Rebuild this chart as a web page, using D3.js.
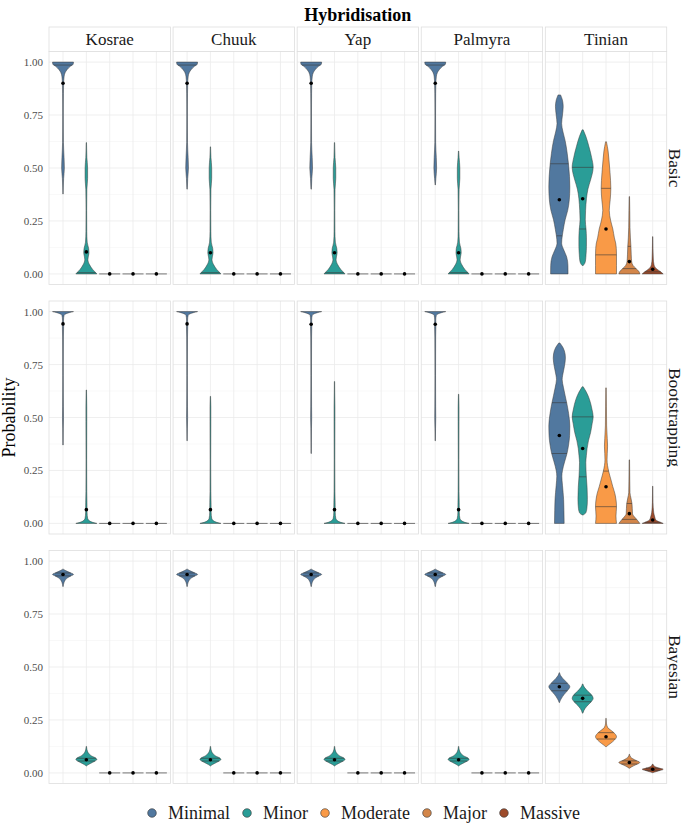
<!DOCTYPE html>
<html><head><meta charset="utf-8">
<script src="https://cdn.jsdelivr.net/npm/d3@7"></script>
<style>body{margin:0;background:#fff} svg{display:block} text{font-family:"Liberation Serif","Times New Roman",serif}</style>
</head><body><svg id="c" width="685" height="824"></svg>
<script>
// ---------------- DATA ----------------
const methods = ["Basic", "Bootstrapping", "Bayesian"];
const islands = ["Kosrae", "Chuuk", "Yap", "Palmyra", "Tinian"];
const categories = ["Minimal", "Minor", "Moderate", "Major", "Massive"];
const colours = ["#51789f", "#2a9d97", "#f99a47", "#d3864a", "#9d4b2b"];
const yTicks = [0, 0.25, 0.5, 0.75, 1];
const yMinor = [0.125, 0.375, 0.625, 0.875];

// Density profiles: [probability, relative width], from high to low probability
// Islands Kosrae–Palmyra
const basicMinimalProfile = [[1.0,1.0],[0.99,0.97],[0.98,0.7],[0.965,0.4],[0.95,0.2],[0.93,0.1],[0.9,0.06],[0.85,0.04],[0.75,0.03],[0.62,0.04],[0.55,0.1],[0.5,0.13],[0.45,0.06],[0.41,0.03],[0.38,0.02]];
const basicMinimalLow = [0.377, 0.40, 0.40, 0.42];
const basicMinorProfile = [[0.62,0.015],[0.55,0.05],[0.5,0.12],[0.45,0.12],[0.4,0.05],[0.3,0.03],[0.2,0.04],[0.15,0.08],[0.12,0.22],[0.1,0.25],[0.08,0.18],[0.067,0.15],[0.044,0.3],[0.02,0.62],[0.008,0.85],[0.0,1.0]];
const basicMinorHigh = [0.62, 0.60, 0.62, 0.58];
const bootMinimalProfile = [[1.0,1.0],[0.995,0.6],[0.99,0.3],[0.982,0.1],[0.96,0.05],[0.93,0.06],[0.88,0.04],[0.7,0.03],[0.55,0.04],[0.5,0.05],[0.45,0.03],[0.38,0.02]];
const bootMinimalLow = [0.37, 0.39, 0.33, 0.39];
const bootMinorProfile = [[0.63,0.02],[0.55,0.04],[0.48,0.04],[0.3,0.03],[0.15,0.04],[0.1,0.06],[0.05,0.07],[0.025,0.12],[0.012,0.3],[0.005,0.6],[0.0,1.0]];
const bootMinorHigh = [0.63, 0.60, 0.67, 0.61];
const bayesMinimalProfile = [[0.962,0.02],[0.955,0.25],[0.945,0.7],[0.937,1.0],[0.93,0.75],[0.92,0.4],[0.905,0.15],[0.89,0.05],[0.88,0.02]];
const bayesMinorProfile = [[0.125,0.02],[0.11,0.06],[0.095,0.18],[0.08,0.5],[0.07,0.9],[0.063,1.0],[0.055,0.8],[0.045,0.4],[0.038,0.15],[0.033,0.02]];

// Tinian
const tinianBasic = [
  [[0.845,0.12],[0.82,0.3],[0.79,0.37],[0.75,0.3],[0.71,0.22],[0.67,0.35],[0.63,0.55],[0.57,0.75],[0.52,0.87],[0.46,0.97],[0.41,1.0],[0.35,0.95],[0.3,0.8],[0.255,0.55],[0.21,0.38],[0.18,0.28],[0.145,0.22],[0.11,0.45],[0.08,0.7],[0.04,0.82],[0.0,0.83]],
  [[0.68,0.05],[0.65,0.3],[0.6,0.6],[0.55,0.85],[0.503,1.0],[0.47,0.9],[0.443,0.75],[0.4,0.5],[0.355,0.36],[0.3,0.28],[0.255,0.25],[0.212,0.32],[0.17,0.36],[0.13,0.36],[0.09,0.32],[0.066,0.28],[0.05,0.2],[0.04,0.06]],
  [[0.624,0.04],[0.58,0.2],[0.54,0.28],[0.48,0.38],[0.404,0.46],[0.35,0.4],[0.3,0.31],[0.25,0.45],[0.212,0.65],[0.17,0.8],[0.146,0.92],[0.12,0.98],[0.09,1.0],[0.04,1.0],[0.0,1.0]],
  [[0.365,0.02],[0.3,0.04],[0.22,0.06],[0.17,0.1],[0.13,0.15],[0.09,0.18],[0.058,0.22],[0.04,0.35],[0.027,0.6],[0.012,0.9],[0.0,1.0]],
  [[0.176,0.015],[0.12,0.03],[0.07,0.06],[0.045,0.12],[0.027,0.3],[0.012,0.7],[0.0,1.0]]
];
const tinianBoot = [
  [[0.852,0.05],[0.83,0.35],[0.8,0.55],[0.78,0.58],[0.74,0.48],[0.7,0.32],[0.68,0.27],[0.64,0.4],[0.57,0.7],[0.52,0.88],[0.46,1.0],[0.415,0.98],[0.37,0.88],[0.33,0.73],[0.29,0.5],[0.25,0.3],[0.223,0.24],[0.18,0.3],[0.113,0.41],[0.06,0.44],[0.0,0.46]],
  [[0.645,0.05],[0.62,0.35],[0.585,0.65],[0.54,0.88],[0.503,1.0],[0.47,0.9],[0.428,0.75],[0.39,0.55],[0.354,0.42],[0.32,0.35],[0.287,0.3],[0.25,0.32],[0.22,0.35],[0.17,0.42],[0.113,0.45],[0.07,0.4],[0.05,0.3],[0.04,0.05]],
  [[0.64,0.02],[0.55,0.04],[0.46,0.06],[0.4,0.12],[0.365,0.15],[0.33,0.12],[0.3,0.1],[0.247,0.25],[0.21,0.45],[0.173,0.65],[0.14,0.85],[0.113,0.95],[0.079,1.0],[0.035,0.95],[0.0,1.0]],
  [[0.3,0.02],[0.2,0.04],[0.145,0.06],[0.12,0.15],[0.094,0.25],[0.07,0.28],[0.046,0.3],[0.03,0.5],[0.019,0.7],[0.0,1.0]],
  [[0.176,0.01],[0.1,0.03],[0.05,0.1],[0.03,0.2],[0.016,0.3],[0.008,0.6],[0.0,1.0]]
];
const tinianBayes = [
  [[0.473,0.02],[0.46,0.12],[0.445,0.35],[0.425,0.75],[0.407,1.0],[0.39,0.8],[0.37,0.45],[0.35,0.18],[0.34,0.07],[0.332,0.02]],
  [[0.42,0.02],[0.405,0.15],[0.385,0.5],[0.365,0.9],[0.352,1.0],[0.335,0.8],[0.315,0.4],[0.295,0.12],[0.282,0.02]],
  [[0.258,0.01],[0.235,0.04],[0.215,0.15],[0.2,0.5],[0.185,0.85],[0.171,1.0],[0.155,0.8],[0.14,0.45],[0.13,0.18],[0.124,0.03]],
  [[0.088,0.02],[0.075,0.12],[0.062,0.5],[0.049,1.0],[0.038,0.6],[0.028,0.2],[0.022,0.02]],
  [[0.042,0.02],[0.032,0.15],[0.024,0.5],[0.017,1.0],[0.01,0.6],[0.004,0.2],[0.001,0.02]]
];
const tinianBasicQuart = [[0.52,0.18],[0.503,0.212],[0.404,0.09],[0.13,0.025],[0.01]];
const tinianBootQuart = [[0.57,0.33],[0.503,0.22],[0.247,0.079],[0.094,0.019],[0.005]];
const tinianBayesQuart = [[0.423,0.388],[0.367,0.336],[0.19,0.16],[0.057,0.042],[0.022,0.012]];

// Means (rows = islands, columns = categories)
const basicMeans = [[0.90,0.104,0,0,0],[0.90,0.10,0,0,0],[0.90,0.10,0,0,0],[0.90,0.10,0,0,0],[0.35,0.355,0.212,0.058,0.022]];
const bootMeans = [[0.942,0.065,0,0,0],[0.942,0.065,0,0,0],[0.94,0.065,0,0,0],[0.94,0.065,0,0,0],[0.415,0.354,0.173,0.046,0.016]];
const bayesMeans = [[0.937,0.062,0,0,0],[0.937,0.062,0,0,0],[0.937,0.062,0,0,0],[0.937,0.062,0,0,0],[0.407,0.352,0.171,0.049,0.017]];

// ---------------- BUILD ----------------
function trimLow(profile, low) {
  return profile.filter(d => d[0] > low + 0.008).concat([[low, 0.015]]);
}
function trimHigh(profile, high) {
  return [[high, 0.015]].concat(profile.filter(d => d[0] < high - 0.008));
}
function getViolin(m, i, k) {
  const means = [basicMeans, bootMeans, bayesMeans][m];
  const mean = means[i][k];
  if (i === 4) {
    return { profile: [tinianBasic, tinianBoot, tinianBayes][m][k],
             quant: [tinianBasicQuart, tinianBootQuart, tinianBayesQuart][m][k], mean };
  }
  if (k >= 2) return { profile: null, quant: [], mean };
  if (m === 0) {
    return k === 0 ? { profile: trimLow(basicMinimalProfile, basicMinimalLow[i]), quant: [0.986], mean }
                   : { profile: trimHigh(basicMinorProfile, basicMinorHigh[i]), quant: [0.006], mean };
  }
  if (m === 1) {
    return k === 0 ? { profile: trimLow(bootMinimalProfile, bootMinimalLow[i]), quant: [], mean }
                   : { profile: trimHigh(bootMinorProfile, bootMinorHigh[i]), quant: [], mean };
  }
  return k === 0 ? { profile: bayesMinimalProfile, quant: [0.944, 0.93], mean }
                 : { profile: bayesMinorProfile, quant: [0.069, 0.056], mean };
}
function widthAt(profile, p) {
  for (let j = 0; j < profile.length - 1; j++) {
    const a = profile[j], b = profile[j + 1];
    if (p <= a[0] && p >= b[0]) {
      const t = (a[0] - p) / ((a[0] - b[0]) || 1);
      return a[1] + t * (b[1] - a[1]);
    }
  }
  return 0;
}

const svg = d3.select("#c");
const L = 49, R = 666.7, colGap = 2.7, T = 51.5, B = 783.5, rowGap = 16.5;
const pw = (R - L - colGap * 4) / 5, ph = (B - T - rowGap * 2) / 3;
const stripTop = 27;

// title
svg.append("text").attr("x", (L + R) / 2).attr("y", 20.5).attr("text-anchor", "middle")
  .attr("font-size", 18).attr("font-weight", "bold").attr("fill", "#000").text("Hybridisation");
// y title
svg.append("text").attr("transform", `translate(15,${(T + B) / 2}) rotate(-90)`)
  .attr("text-anchor", "middle").attr("font-size", 18).attr("fill", "#000").text("Probability");

// strips
islands.forEach((isl, c) => {
  const x0 = L + c * (pw + colGap);
  svg.append("rect").attr("x", x0).attr("y", stripTop).attr("width", pw).attr("height", T - stripTop)
    .attr("fill", "#fff").attr("stroke", "#dedede").attr("stroke-width", 0.8);
  svg.append("text").attr("x", x0 + pw / 2).attr("y", (stripTop + T) / 2 + 5.8).attr("text-anchor", "middle")
    .attr("font-size", 17).attr("fill", "#1a1a1a").text(isl);
});

methods.forEach((meth, r) => {
  const y0 = T + r * (ph + rowGap);
  svg.append("text").attr("transform", `translate(669,${y0 + ph / 2}) rotate(90)`)
    .attr("text-anchor", "middle").attr("font-size", 17.5).attr("fill", "#1a1a1a").text(meth);

  islands.forEach((isl, c) => {
    const x0 = L + c * (pw + colGap);
    const x = d3.scalePoint().domain(categories).range([x0, x0 + pw]).padding(0.6);
    const y = d3.scaleLinear().domain([-0.05, 1.05]).range([y0 + ph, y0]);
    const half = x.step() * 0.45;
    const g = svg.append("g");
    g.append("rect").attr("x", x0).attr("y", y0).attr("width", pw).attr("height", ph).attr("fill", "#fff");
    g.selectAll(".mn").data(yMinor).enter().append("line")
      .attr("x1", x0).attr("x2", x0 + pw).attr("y1", d => y(d)).attr("y2", d => y(d))
      .attr("stroke", "#f4f4f4").attr("stroke-width", 0.6);
    g.selectAll(".mj").data(yTicks).enter().append("line")
      .attr("x1", x0).attr("x2", x0 + pw).attr("y1", d => y(d)).attr("y2", d => y(d))
      .attr("stroke", "#ebebeb").attr("stroke-width", 0.8);
    g.selectAll(".vx").data(categories).enter().append("line")
      .attr("x1", d => x(d)).attr("x2", d => x(d)).attr("y1", y0).attr("y2", y0 + ph)
      .attr("stroke", "#ebebeb").attr("stroke-width", 0.8);
    g.append("rect").attr("x", x0).attr("y", y0).attr("width", pw).attr("height", ph)
      .attr("fill", "none").attr("stroke", "#dedede").attr("stroke-width", 0.8);

    if (c === 0) {
      const ax = svg.append("g").attr("transform", `translate(${x0},0)`)
        .call(d3.axisLeft(y).tickValues(yTicks).tickFormat(d3.format(".2f")).tickSize(0).tickPadding(6));
      ax.select(".domain").remove();
      ax.selectAll("text").attr("font-size", 11).attr("fill", "#4d4d4d")
        .attr("font-family", '"Liberation Serif","Times New Roman",serif');
    }

    categories.forEach((cat, k) => {
      const v = getViolin(r, c, k);
      const cx = x(cat);
      if (v.profile) {
        const area = d3.area()
          .y(d => y(d[0]))
          .x0(d => cx - d[1] * half)
          .x1(d => cx + d[1] * half)
          .curve(d3.curveMonotoneY);
        g.append("path").attr("d", area(v.profile)).attr("fill", colours[k])
          .attr("stroke", "#3a3a3a").attr("stroke-width", 0.5);
        v.quant.forEach(q => {
          const w = widthAt(v.profile, q) * half;
          g.append("line").attr("x1", cx - w).attr("x2", cx + w).attr("y1", y(q)).attr("y2", y(q))
            .attr("stroke", "#3a3a3a").attr("stroke-width", 0.6);
        });
      } else {
        g.append("line").attr("x1", cx - half).attr("x2", cx + half).attr("y1", y(0)).attr("y2", y(0))
          .attr("stroke", "#555").attr("stroke-width", 0.8);
      }
      g.append("circle").attr("cx", cx).attr("cy", y(v.mean)).attr("r", 1.8).attr("fill", "#000");
    });
  });
});

// legend
const legY = 813;
let lx = 152;
categories.forEach((cat, k) => {
  svg.append("circle").attr("cx", lx).attr("cy", legY).attr("r", 4.3).attr("fill", colours[k])
    .attr("stroke", "#333").attr("stroke-width", 0.6);
  const t = svg.append("text").attr("x", lx + 16).attr("y", legY + 6).attr("font-size", 18)
    .attr("fill", "#1a1a1a").text(cat);
  lx += 16 + t.node().getComputedTextLength() + 17;
});
</script></body></html>
